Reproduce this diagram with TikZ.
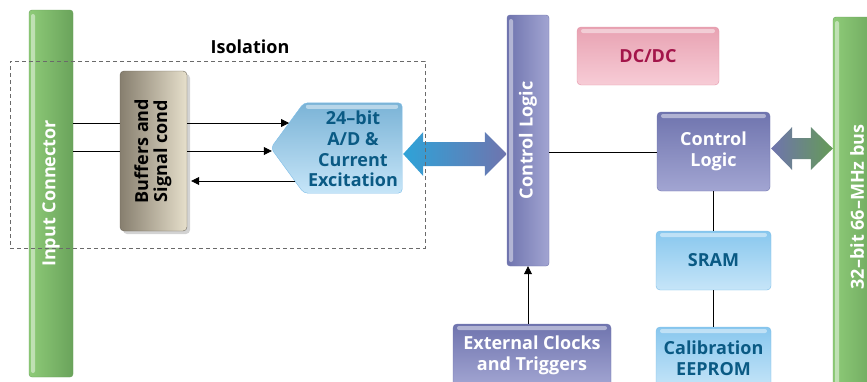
\documentclass[tikz,border=0pt]{standalone}
\usepackage{fontspec}
\setmainfont{Open Sans}
\usetikzlibrary{arrows.meta,shadows,calc}
\definecolor{grnL}{HTML}{8ECB78}
\definecolor{grnD}{HTML}{6AA35B}
\definecolor{purD}{HTML}{6F74AE}
\definecolor{purL}{HTML}{A2A5D2}
\definecolor{bluT}{HTML}{88C7EE}
\definecolor{bluB}{HTML}{C6E5F8}
\definecolor{bluE}{HTML}{7CBDE8}
\definecolor{teal}{HTML}{0A5A84}
\definecolor{pnkT}{HTML}{E8A2B2}
\definecolor{pnkB}{HTML}{F7CCD6}
\definecolor{pnkE}{HTML}{E394A8}
\definecolor{dcred}{HTML}{A3154A}
\definecolor{bufD}{HTML}{877F6F}
\definecolor{bufL}{HTML}{E6DFCB}
\definecolor{arrC}{HTML}{2EA3D8}
\definecolor{isog}{HTML}{6A6A6A}
\newcommand{\myfs}{\fontsize{18}{21}\selectfont}
\begin{document}
\begin{tikzpicture}[x=1pt,y=-1pt, font=\myfs\bfseries, >={Triangle[length=8pt,width=8pt]},
  hgloss/.style={path picture={\fill[white,opacity=0.45,rounded corners=2pt]
     ([xshift=4pt,yshift=-2pt]path picture bounding box.north west) rectangle
     ([xshift=-4pt,yshift=-6pt]path picture bounding box.north east);}},
  vgloss/.style={path picture={\fill[white,opacity=0.45,rounded corners=2pt]
     ([xshift=2pt,yshift=-4pt]path picture bounding box.north west) rectangle
     ([xshift=6pt,yshift=4pt]path picture bounding box.south west);}},
  gbar/.style={rounded corners=3pt, draw=grnD, left color=grnL, right color=grnD, text=white, inner sep=0pt, vgloss},
  pbar/.style={rounded corners=3pt, draw=purD, left color=purD, right color=purL, text=white, inner sep=0pt, vgloss},
  pbox/.style={rounded corners=4pt, draw=purD, top color=purD, bottom color=purL, text=white, inner sep=0pt, align=center, hgloss},
  bbox/.style={rounded corners=4pt, draw=bluE, top color=bluT, bottom color=bluB, text=teal, inner sep=0pt, align=center, hgloss},
  line/.style={draw=black, line width=0.8pt}
]
\useasboundingbox (0,0) rectangle (867,381);
\clip (0,0) rectangle (867,381);

% left green connector
\node[gbar, minimum width=44, minimum height=367] (inp) at (51,193.5) {\rotatebox{90}{Input Connector}};

% buffers
\node[rounded corners=4pt, draw=bufD!80!black, left color=bufD, right color=bufL,
      drop shadow={shadow xshift=3pt, shadow yshift=-3pt, opacity=0.35},
      minimum width=67, minimum height=160, inner sep=0pt] (buf) at (153.5,151)
      {\rotatebox{90}{\fontsize{18}{20}\selectfont\begin{tabular}{@{}c@{}}Buffers and\\[-1pt] Signal cond\end{tabular}}};

% A/D
\node[minimum width=98, minimum height=90, inner sep=0pt] (adbox) at (353,148) {};
\shade[top color=bluT!90!black, bottom color=bluB, draw=bluE, rounded corners=4pt]
  ([xshift=-33pt]adbox.west) -- (adbox.north west) -- (adbox.north east) -- (adbox.south east) -- (adbox.south west) -- cycle;
\fill[white,opacity=0.45,rounded corners=2pt] ([xshift=2pt,yshift=-2pt]adbox.north west) rectangle ([xshift=-4pt,yshift=-6pt]adbox.north east);
\node[text=teal, align=center, inner sep=0pt, font=\fontsize{18}{20.7}\selectfont\bfseries] (ad) at (353,149) {24\textendash bit\\A/D \&\\Current\\Excitation};

% signal lines
\draw[line] (inp.east |- 0,123) -- (buf.west |- 0,123);
\draw[line] (inp.east |- 0,151) -- (buf.west |- 0,151);
\draw[line,->] (buf.east |- 0,123) -- (289,123);
\draw[line,->] (buf.east |- 0,151) -- ([xshift=-32pt]adbox.west |- 0,151);
\draw[line,->] (295,181) -- ([xshift=4pt]buf.east |- 0,181);

% control logic bar
\node[pbar, minimum width=42, minimum height=251] (cl) at (528,140.5) {\rotatebox{90}{Control Logic}};

% double arrow A/D <-> control logic
\coordinate (a1) at ([xshift=1pt]adbox.east |- 0,154);
\coordinate (b1) at (cl.west |- 0,154);
\shade[left color=arrC, right color=purD, middle color=arrC!50!purD]
  (a1) -- ($(a1)+(20,-22)$) -- ($(a1)+(20,-12)$) -- ($(b1)+(-22,-12)$) -- ($(b1)+(-22,-22)$) -- (b1)
  -- ($(b1)+(-22,22)$) -- ($(b1)+(-22,12)$) -- ($(a1)+(20,12)$) -- ($(a1)+(20,22)$) -- cycle;

% DC/DC
\node[rounded corners=4pt, draw=pnkE, top color=pnkT, bottom color=pnkB, text=dcred, hgloss,
      minimum width=142, minimum height=58, inner sep=0pt] (dc) at (648,56) {DC/DC};

% right control logic
\node[pbox, minimum width=113, minimum height=79] (cl2) at (713.5,151.5) {Control\\Logic};
\draw[line] (cl.east |- 0,152) -- (cl2.west |- 0,152);

% right bus
\node[gbar, minimum width=48, minimum height=380] (bus) at (857,207) {\rotatebox{90}{32\textendash bit 66\textendash MHz bus}};

% double arrow control logic <-> bus
\coordinate (a2) at ([xshift=1pt]cl2.east |- 0,148.5);
\coordinate (b2) at (bus.west |- 0,148.5);
\shade[left color=purD, right color=grnD!95!black]
  (a2) -- ($(a2)+(21,-21.5)$) -- ($(a2)+(21,-10.5)$) -- ($(b2)+(-22,-10.5)$) -- ($(b2)+(-22,-21.5)$) -- (b2)
  -- ($(b2)+(-22,21.5)$) -- ($(b2)+(-22,10.5)$) -- ($(a2)+(21,10.5)$) -- ($(a2)+(21,21.5)$) -- cycle;

% SRAM and EEPROM
\node[bbox, minimum width=115, minimum height=59] (sram) at (713.5,260.5) {SRAM};
\node[bbox, minimum width=115, minimum height=62] (eep) at (713.5,358) {Calibration\\EEPROM};
\draw[line] (cl2.south) -- (sram.north);
\draw[line] (sram.south) -- (eep.north);

% external clocks
\node[pbox, minimum width=158, minimum height=62] (ext) at (532,355) {External Clocks\\and Triggers};
\draw[line,->] (ext.north -| cl.south) -- (cl.south);

% isolation
\node[draw=isog, dash pattern=on 4pt off 3pt, line width=0.8pt, minimum width=415, minimum height=187, inner sep=0pt] (iso) at (217.5,154.5) {};
\node[inner sep=0pt] (isol) at (250,47) {Isolation};
\end{tikzpicture}
\end{document}
